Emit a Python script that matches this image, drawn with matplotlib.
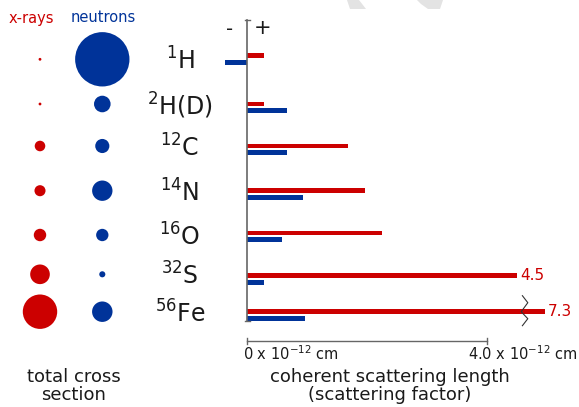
import numpy as np
import matplotlib.pyplot as plt
from matplotlib.patches import Polygon

# isotopes, top to bottom
isotopes = [r'$^{1}$H', r'$^{2}$H(D)', r'$^{12}$C', r'$^{14}$N', r'$^{16}$O', r'$^{32}$S', r'$^{56}$Fe']

# coherent scattering length (x 10^-12 cm)
xray_length = [0.28, 0.28, 1.69, 1.97, 2.25, 4.5, 7.3]
neutron_length = [-0.374, 0.667, 0.665, 0.936, 0.58, 0.28, 0.97]

# total cross sections (barn, x-ray ones)
xray_sigma = [0.22, 0.22, 3.1, 3.4, 4.3, 10.7, 32.9]
neutron_sigma = [82.02, 7.64, 5.55, 11.51, 4.23, 1.03, 11.62]

# values written next to the long bars
long_labels = {5: '4.5', 6: '7.3'}

RED = '#cc0000'
BLUE = '#003399'
TXT = '#1a1a1a'
GRAY = '#666666'

W, H = 579, 407
fig = plt.figure(figsize=(W / 100, H / 100), dpi=100)

# layout: vertical pixel position of each row (circles / bars)
circle_rows = np.array([59.3, 104, 146, 190.7, 235, 274.3, 311.7])
bar_rows = np.array([59, 107.4, 149.4, 194, 236.3, 278.9, 315])

# --- bar axes: 0 at x=247 px, 60 px per 10^-12 cm
x0, sx = 247, 60.0
ax = fig.add_axes([0, 0, 1, 1])
ax.set_xlim(-x0 / sx, (W - x0) / sx)
ax.set_ylim(H, 0)
ax.axis('off')

cut = 4.97  # Fe x-ray bar is broken here
ax.barh(bar_rows - 3.3, np.minimum(xray_length, cut), height=4.6, color=RED, lw=0)
ax.barh(bar_rows + 3.3, neutron_length, height=4.6, color=BLUE, lw=0)

for i, lab in long_labels.items():
    ax.text(min(xray_length[i], cut) + 3 / sx, bar_rows[i] - 3.3, lab, color=RED,
            fontsize=11, ha='left', va='center')

# break mark on the Fe bar
zx = 4.63 + np.array([-0.04, 0.05, -0.06, 0.05, -0.04])
zy = bar_rows[6] - 3.3 + np.array([-16, -9, 0, 7, 14])
ax.plot(zx, zy, color='#333333', lw=0.8)

# vertical zero line with caps
top, bot = 20, 321
ax.plot([0, 0], [top, bot], color=GRAY, lw=1.2)
ax.plot([-2.5 / sx, 2.5 / sx], [top, top], color=GRAY, lw=1)
ax.plot([-2.5 / sx, 2.5 / sx], [bot, bot], color=GRAY, lw=1)
ax.text(-0.29, top + 9, '-', fontsize=14, color=TXT, ha='center', va='center')
ax.text(0.26, top + 8, '+', fontsize=15, color=TXT, ha='center', va='center')

# scale bar
sy = 340.7
ax.plot([0, 4.0], [sy, sy], color=GRAY, lw=1)
for xv in (0, 4.0):
    ax.plot([xv, xv], [sy - 3, sy + 3], color=GRAY, lw=1)
ax.text(-4 / sx, sy + 4, r'0 x 10$^{-12}$ cm', fontsize=10.5, color=TXT,
        ha='left', va='top')
ax.text((578 - x0) / sx, sy + 4, r'4.0 x 10$^{-12}$ cm', fontsize=10.5, color=TXT,
        ha='right', va='top')
ax.text((390 - x0) / sx, 386, 'coherent scattering length\n(scattering factor)',
        fontsize=13, color=TXT, ha='center', va='center', linespacing=1.05)

# --- circle axes: x-ray column at 40 px, neutron column at 102 px
cx0, csx = 40, 62.3
axc = fig.add_axes([0, 0, 1, 1])
axc.set_xlim(-cx0 / csx, (W - cx0) / csx)
axc.set_ylim(H, 0)
axc.axis('off')
axc.patch.set_alpha(0)

k = (3.0 * 2 * 0.72) ** 2  # points^2 per barn (radius 3 px per sqrt(barn))
axc.scatter(np.zeros(len(isotopes)), circle_rows, s=k * np.array(xray_sigma), color=RED, lw=0)
axc.scatter(np.ones(len(isotopes)), circle_rows, s=k * np.array(neutron_sigma), color=BLUE, lw=0)

for i, name in enumerate(isotopes):
    axc.text((180 - cx0) / csx, circle_rows[i] + 10.7, name, fontsize=17, color=TXT,
             ha='center', va='baseline')

axc.text((31 - cx0) / csx, 18, 'x-rays', color=RED, fontsize=10.5,
         ha='center', va='center')
axc.text((103 - cx0) / csx, 18, 'neutrons', color=BLUE, fontsize=10.5,
         ha='center', va='center')
axc.text((74 - cx0) / csx, 386, 'total cross\nsection', fontsize=13,
         color=TXT, ha='center', va='center', linespacing=1.05)

# faint watermark pieces at the top edge
wm = fig.add_axes([0, 0, 1, 1], zorder=-1)
wm.set_xlim(0, W)
wm.set_ylim(H, 0)
wm.axis('off')
wm.add_patch(Polygon([(347, 0), (359, 0), (366, 9), (350, 9)], color='#e3e3e3', lw=0))
wm.add_patch(Polygon([(417, 0), (443, 0), (440, 9), (428, 9), (421, 4)], color='#e3e3e3', lw=0))

fig.savefig('out.png', dpi=100)
